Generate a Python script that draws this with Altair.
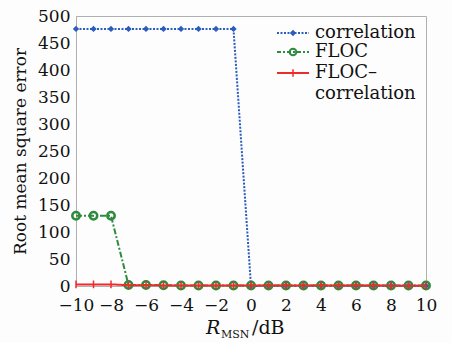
import altair as alt
import pandas as pd

x_vals = list(range(-10, 11))
correlation = [476, 476, 476, 476, 476, 476, 476, 476, 476, 476, 0, 0.5, 0.5, 0.5, 0.5, 0.5, 0.5, 0.5, 0.5, 0.5, 0.5]
floc = [130, 130, 130, 2, 2, 1.5, 1, 1, 1, 1, 1, 1, 1, 1, 1, 1, 1, 1, 1, 1, 1]
floc_corr = [3, 3, 3, 1.5, 1.5, 1, 1, 1, 1, 1, 1, 1, 1, 1, 1, 1, 1, 1, 0.5, 0.5, 0.5]
x_ticks = [-10, -8, -6, -4, -2, 0, 2, 4, 6, 8, 10]
y_ticks = [0, 50, 100, 150, 200, 250, 300, 350, 400, 450, 500]

series_names = ["correlation", "FLOC", "FLOC\u2013correlation"]
colors = ["#2b5cbf", "#2e8b3e", "#ee2b2b"]

FONT = "DejaVu Serif"

rows = []
for name, vals in zip(series_names, [correlation, floc, floc_corr]):
    for xv, yv in zip(x_vals, vals):
        rows.append({"x": xv, "y": yv, "series": name})
df = pd.DataFrame(rows)

W, H = 350, 270

xs = alt.Scale(domain=[-10, 10], nice=False)
ys = alt.Scale(domain=[0, 500], nice=False)
xax = alt.Axis(values=x_ticks, title=None, ticks=False, grid=False,
               labelFont=FONT, labelFontSize=17, labelColor="#111", labelPadding=11,
               labelOverlap=False, labelFlush=False,
               domainColor="#b0b0b0", labelExpr="replace(datum.label, '-', '\u2013')")
yax = alt.Axis(values=y_ticks, title="Root mean square error", ticks=False, grid=False,
               labelFont=FONT, labelFontSize=17, labelColor="#111", labelPadding=6,
               labelOverlap=False, labelFlush=False,
               titleFont=FONT, titleFontSize=17, titleFontWeight="normal", titleColor="#111",
               titlePadding=8, domainColor="#b0b0b0")

def series_layer(i, dash, shape, filled, size, sw):
    d = df[df.series == series_names[i]]
    base = alt.Chart(d)
    enc = dict(x=alt.X("x:Q", scale=xs, axis=xax), y=alt.Y("y:Q", scale=ys, axis=yax))
    line = base.mark_line(color=colors[i], strokeDash=dash, strokeWidth=2).encode(**enc)
    pts = base.mark_point(color=colors[i], shape=shape, filled=filled, size=size,
                          strokeWidth=sw, opacity=1).encode(**enc)
    return line + pts

l_corr = series_layer(0, [2, 1.5], "diamond", True, 40, 1)
l_floc = series_layer(1, [6, 2, 2, 2], "circle", False, 55, 2.5)
l_fc = series_layer(2, [1, 0], "M0,-1L0,1", False, 60, 1.5)

# legend
leg_y = [33, 52, 73]
legend_layers = []
dashes = [[2, 1.5], [4, 2, 2, 2], [1, 0]]
shapes = ["diamond", "circle", "M0,-1L0,1"]
filleds = [True, False, False]
sizes = [40, 45, 60]
for i in range(3):
    yy = leg_y[i] - 16
    legend_layers.append(alt.Chart(pd.DataFrame({"k": [0]})).mark_rule(
        color=colors[i], strokeDash=dashes[i], strokeWidth=2).encode(
        x=alt.value(277 - 76), x2=alt.value(309 - 76), y=alt.value(yy)))
    legend_layers.append(alt.Chart(pd.DataFrame({"k": [0]})).mark_point(
        color=colors[i], shape=shapes[i], filled=filleds[i], size=sizes[i],
        strokeWidth=2 if i == 1 else 1.5, opacity=1).encode(
        x=alt.value(293 - 76), y=alt.value(yy)))
legend_texts = ["correlation", "FLOC", "FLOC\u2013", "correlation"]
legend_text_y = [33, 52, 73, 94]
for t, ty in zip(legend_texts, legend_text_y):
    legend_layers.append(alt.Chart(pd.DataFrame({"k": [0]})).mark_text(
        text=t, font=FONT, fontSize=18, align="left", baseline="middle", color="#111").encode(
        x=alt.value(315 - 76), y=alt.value(ty - 16)))

# x axis title: italic R, subscript MSN, /dB
title_layers = [
    alt.Chart(pd.DataFrame({"k": [0]})).mark_text(text="R", font=FONT, fontSize=19, fontStyle="italic",
        align="left", baseline="alphabetic", color="#111").encode(x=alt.value(206 - 76), y=alt.value(334 - 16)),
    alt.Chart(pd.DataFrame({"k": [0]})).mark_text(text="MSN", font=FONT, fontSize=11,
        align="left", baseline="alphabetic", color="#111").encode(x=alt.value(221 - 76), y=alt.value(338 - 16)),
    alt.Chart(pd.DataFrame({"k": [0]})).mark_text(text="/dB", font=FONT, fontSize=19,
        align="left", baseline="alphabetic", color="#111").encode(x=alt.value(252 - 76), y=alt.value(334 - 16)),
]

chart = alt.layer(l_corr, l_floc, l_fc, *legend_layers, *title_layers).properties(
    width=W, height=H,
    autosize=alt.AutoSizeParams(type="none"),
    padding={"left": 76, "top": 16, "right": 26, "bottom": 57},
    background="#fdfdfd",
).configure_view(stroke="#b0b0b0", strokeWidth=1)

chart.save("out.html", embed_options={"renderer": "svg", "actions": False})
